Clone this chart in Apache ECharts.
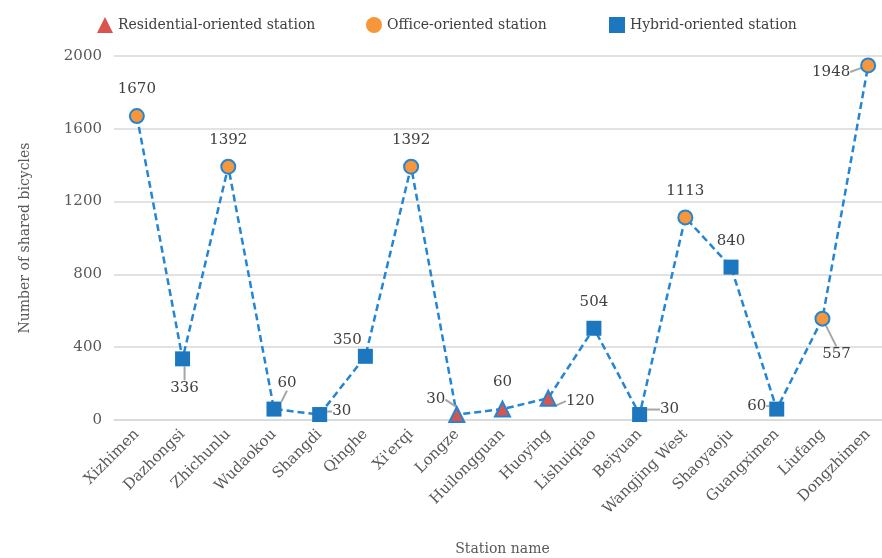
<!DOCTYPE html>
<html>
<head>
    <meta charset="utf-8">
    <script src="https://cdn.jsdelivr.net/npm/echarts@6/dist/echarts.min.js"></script>
</head>
<body style="margin:0">
<div id="main" style="width:882px;height:558px;"></div>
<script type="text/javascript">
var stations = ['Xizhimen', 'Dazhongsi', 'Zhichunlu', 'Wudaokou', 'Shangdi', 'Qinghe', "Xi'erqi", 'Longze',
    'Huilongguan', 'Huoying', 'Lishuiqiao', 'Beiyuan', 'Wangjing West', 'Shaoyaoju', 'Guangximen', 'Liufang', 'Dongzhimen'];
var bikes = [1670, 336, 1392, 60, 30, 350, 1392, 30, 60, 120, 504, 30, 1113, 840, 60, 557, 1948];
// R = residential, O = office, H = hybrid
var stationType = ['O', 'H', 'O', 'H', 'H', 'H', 'O', 'R', 'R', 'R', 'H', 'H', 'O', 'H', 'H', 'O', 'O'];
var typeNames = ['Residential-oriented station', 'Office-oriented station', 'Hybrid-oriented station'];
var yTicks = [0, 400, 800, 1200, 1600, 2000];

// label shift from the default 'top' spot, and whether a leader line is drawn
var labelShift = [
    [0, -6, 0], [2, 49, 1], [0, -6, 0], [13, -6, 1], [22, 17, 1], [-18, 4, 0], [0, -6, 0], [-21, 6, 1],
    [0, -6, 0], [32, 24, 1], [0, -6, 0], [30, 15, 1], [0, -6, 0], [0, -6, 0], [-20, 17, 1], [14, 56, 1], [-37, 27, 1]
];

var blue = '#2485d3';
var font = 'DejaVu Serif';

function pick(t) {
    return bikes.map(function (v, i) {
        if (stationType[i] !== t) return '-';
        return {value: v, labelLine: {show: labelShift[i][2] === 1}};
    });
}

function scatter(name, t, symbol, size, color, border) {
    return {
        name: name,
        type: 'scatter',
        symbol: symbol,
        symbolSize: size,
        z: 3,
        itemStyle: {color: color, borderColor: border ? blue : color, borderWidth: border ? 2 : 0, opacity: 1},
        label: {
            show: true, position: 'top', distance: 5,
            color: '#404040', fontFamily: font, fontSize: 15
        },
        labelLine: {show: true, lineStyle: {color: '#a6a6a6', width: 2}},
        labelLayout: function (p) {
            return {dx: labelShift[p.dataIndex][0], dy: labelShift[p.dataIndex][1]};
        },
        data: pick(t)
    };
}

function legendAt(left, name) {
    return {
        top: 12,
        left: left,
        itemWidth: 16,
        itemHeight: 16,
        textStyle: {fontFamily: font, fontSize: 14, color: '#404040'},
        data: [{name: name, itemStyle: {borderWidth: 0}}]
    };
}

var chart = echarts.init(document.getElementById('main'));
chart.setOption({
    animation: false,
    backgroundColor: '#fff',
    legend: [
        legendAt(92, typeNames[0]),
        legendAt(361, typeNames[1]),
        legendAt(604, typeNames[2])
    ],
    grid: {left: 114, top: 56, width: 777, height: 364, outerBoundsMode: 'none'},
    xAxis: {
        type: 'category',
        data: stations,
        name: 'Station name',
        nameLocation: 'middle',
        nameGap: 122,
        nameTextStyle: {fontFamily: font, fontSize: 14, color: '#595959'},
        axisLine: {lineStyle: {color: '#d9d9d9', width: 1.5}},
        axisTick: {show: false},
        axisLabel: {rotate: 45, margin: 12, fontFamily: font, fontSize: 15, color: '#595959', interval: 0}
    },
    yAxis: {
        type: 'value',
        min: yTicks[0],
        max: yTicks[yTicks.length - 1],
        interval: yTicks[1] - yTicks[0],
        name: 'Number of shared bicycles',
        nameLocation: 'middle',
        nameGap: 82,
        nameTextStyle: {fontFamily: font, fontSize: 14, color: '#595959'},
        axisLine: {show: false},
        axisTick: {show: false},
        axisLabel: {
            margin: 12, fontFamily: font, fontSize: 15, color: '#595959',
            formatter: function (v) { return String(v); }
        },
        splitLine: {lineStyle: {color: '#d9d9d9', width: 1.5}}
    },
    series: [
        {
            name: 'all',
            type: 'line',
            data: bikes,
            showSymbol: false,
            z: 2,
            lineStyle: {color: blue, width: 2.5, type: [7, 4]}
        },
        scatter(typeNames[0], 'R', 'triangle', 15, '#d9534f', true),
        scatter(typeNames[1], 'O', 'circle', 14, '#f7963b', true),
        scatter(typeNames[2], 'H', 'rect', 15, '#1c77bf', false)
    ]
});
</script>
</body>
</html>
